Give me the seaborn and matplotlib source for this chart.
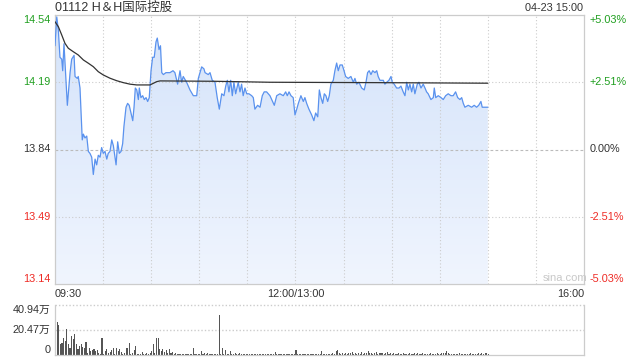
import numpy as np
import pandas as pd
import matplotlib
matplotlib.use("Agg")
import matplotlib.pyplot as plt
import matplotlib.colors as mcolors
import seaborn as sns

# ---------------- data ----------------
title = "01112 H＆H国际控股"
stamp = "04-23 15:00"
prev_close = 13.84
price_ticks = [14.54, 14.19, 13.84, 13.49, 13.14]
pct_labels = ["+5.03%", "+2.51%", "0.00%", "-2.51%", "-5.03%"]
time_ticks = [0, 150, 330]
time_labels = ["09:30", "12:00/13:00", "16:00"]
vol_ticks = [40.94, 20.47, 0]
vol_labels = ["40.94万", "20.47万", "0"]

price_min = [0.0, 1.1, 2.1, 3.1, 4.2, 4.8, 5.6, 6.7, 7.7, 9.4, 10.4, 11.9, 12.5, 13.9, 14.5,
             15.6, 16.7, 17.0, 17.7, 18.7, 19.8, 20.8, 21.8, 22.9, 23.9, 25.0, 26.0, 27.0, 28.1,
             29.1, 30.1, 31.2, 32.3, 33.2, 34.3, 35.4, 36.4, 37.4, 38.1, 39.1, 40.1, 41.2, 42.2,
             43.0, 44.3, 45.3, 46.3, 47.4, 48.5, 49.3, 50.1, 51.0, 52.0, 52.6, 53.6, 54.7, 55.7,
             56.8, 57.8, 58.8, 59.9, 60.9, 61.9, 63.0, 63.8, 64.9, 65.8, 66.6, 67.6, 69.2, 71.7,
             73.6, 74.8, 76.5, 78.0, 79.0, 80.0, 82.1, 84.2, 86.3, 88.4, 89.4, 91.5, 92.9, 93.6,
             95.6, 96.7, 98.1, 99.8, 101.2, 102.5, 104.0, 105.4, 106.5, 107.5, 108.5, 109.6,
             110.6, 111.6, 112.7, 114.3, 115.4, 116.4, 117.4, 118.5, 119.6, 121.0, 122.7, 123.7,
             124.7, 126.4, 127.9, 129.3, 130.5, 132.0, 134.1, 136.8, 138.3, 140.3, 142.4, 143.9,
             144.9, 146.0, 147.2, 148.6, 149.7, 150.8, 151.8, 153.4, 154.9, 155.9, 157.0, 158.4,
             160.1, 161.5, 162.6, 163.9, 164.9, 165.9, 167.0, 168.0, 169.0, 170.1, 171.1, 172.1,
             173.6, 174.6, 175.7, 176.7, 177.8, 179.2, 180.3, 181.3, 182.9, 184.6, 186.1, 187.1,
             188.2, 189.6, 191.3, 192.9, 194.0, 195.0, 196.0, 197.1, 198.2, 199.6, 200.7, 201.6,
             202.7, 204.8, 205.8, 206.9, 208.3, 209.6, 210.4, 211.6, 213.1, 214.6, 215.8, 217.2,
             218.3, 219.4, 220.4, 221.4, 222.5, 223.5, 224.5, 226.0, 227.0, 228.3, 229.7, 230.8,
             231.8, 232.8, 234.5, 236.0, 236.6, 237.5, 239.1, 240.8, 242.2, 243.7, 245.3, 247.0,
             248.4, 249.9, 251.2, 252.6, 253.7, 254.7, 255.7, 257.8, 259.9, 261.5, 263.0, 264.3,
             265.7, 266.5, 268.2, 270.0]
price_val = [14.38, 14.53, 14.46, 14.32, 14.31, 14.25, 14.39, 14.22, 14.07, 14.24, 14.31, 14.33,
             14.22, 14.21, 14.22, 14.16, 13.94, 13.89, 13.92, 13.90, 13.91, 13.83, 13.82, 13.80,
             13.71, 13.79, 13.76, 13.81, 13.80, 13.85, 13.82, 13.83, 13.79, 13.82, 13.83, 13.89,
             13.86, 13.80, 13.76, 13.88, 13.82, 13.83, 13.87, 13.96, 14.06, 14.08, 14.07, 14.03,
             13.99, 14.06, 14.16, 14.15, 14.10, 14.16, 14.11, 14.12, 14.10, 14.11, 14.09, 14.11,
             14.25, 14.32, 14.32, 14.40, 14.42, 14.36, 14.38, 14.24, 14.23, 14.24, 14.24, 14.25,
             14.24, 14.18, 14.25, 14.19, 14.22, 14.19, 14.15, 14.12, 14.12, 14.21, 14.27, 14.26,
             14.24, 14.23, 14.24, 14.20, 14.19, 14.11, 14.05, 14.13, 14.12, 14.17, 14.20, 14.14,
             14.20, 14.12, 14.19, 14.13, 14.19, 14.14, 14.18, 14.12, 14.16, 14.13, 14.13, 14.12,
             14.11, 14.05, 14.07, 14.06, 14.12, 14.14, 14.14, 14.12, 14.07, 14.12, 14.13, 14.12,
             14.14, 14.12, 14.14, 14.12, 14.11, 14.02, 14.05, 14.08, 14.12, 14.09, 14.11, 14.08,
             14.05, 14.02, 13.99, 14.03, 14.01, 14.15, 14.11, 14.08, 14.13, 14.12, 14.09, 14.12,
             14.18, 14.20, 14.25, 14.29, 14.25, 14.28, 14.28, 14.25, 14.22, 14.21, 14.22, 14.19,
             14.21, 14.18, 14.19, 14.16, 14.15, 14.19, 14.24, 14.25, 14.23, 14.25, 14.24, 14.25,
             14.22, 14.20, 14.20, 14.18, 14.19, 14.20, 14.22, 14.19, 14.18, 14.16, 14.16, 14.17,
             14.14, 14.12, 14.19, 14.15, 14.18, 14.14, 14.18, 14.13, 14.18, 14.19, 14.16, 14.18,
             14.16, 14.14, 14.13, 14.10, 14.11, 14.16, 14.11, 14.12, 14.11, 14.10, 14.12, 14.13,
             14.12, 14.12, 14.14, 14.11, 14.10, 14.11, 14.08, 14.06, 14.07, 14.06, 14.07, 14.06,
             14.07, 14.09, 14.06, 14.06, 14.06]

avg_min = [0, 2.1, 4.2, 6.2, 8.3, 11.4, 14.5, 17.7, 20.8, 23.9, 27.0, 30.1, 34.3, 38.5,
           42.6, 46.8, 51.0, 59.3, 63.4, 65.5, 100, 134, 200, 270]
avg_val = [14.505, 14.479, 14.436, 14.393, 14.367, 14.349, 14.332, 14.306, 14.289, 14.271,
           14.245, 14.228, 14.211, 14.198, 14.188, 14.180, 14.176, 14.176, 14.193, 14.197,
           14.195, 14.190, 14.188, 14.185]

vol = [40.9, 26.9, 24.2, 8.6, 10.0, 14.0, 11.3, 20.7, 9.2, 5.4,
       15.4, 12.7, 16.7, 8.6, 4.6, 7.3, 9.2, 6.5, 5.9, 10.8,
       1.9, 5.9, 3.2, 3.8, 4.6, 3.2, 4.0, 1.9, 1.2, 13.5,
       1.1, 3.2, 4.6, 1.5, 2.7, 3.8, 5.9, 1.1, 5.9, 3.2,
       4.6, 2.7, 1.2, 1.9, 5.9, 5.4, 10.0, 1.1, 1.9, 3.8,
       7.3, 1.1, 0.8, 1.1, 2.7, 0.8, 1.1, 1.3, 0.9, 1.9,
       3.2, 8.6, 1.9, 14.0, 13.5, 4.6, 3.2, 4.6, 2.7, 3.8,
       1.9, 4.6, 1.9, 2.7, 1.2, 1.9, 1.0, 0.8, 1.1, 0.9,
       1.0, 0.8, 1.1, 0.9, 1.0, 0.8, 5.9, 1.1, 0.9, 1.1,
       0.8, 3.2, 1.1, 1.9, 1.1, 1.9, 0.9, 1.1, 0.9, 1.1,
       0.8, 1.1, 32.3, 1.2, 5.9, 1.1, 4.0, 1.1, 0.9, 3.2,
       1.1, 0.9, 1.9, 1.1, 0.9, 1.4, 0.8, 1.1, 0.7, 1.2,
       0.9, 1.1, 0.8, 1.0, 1.2, 0.7, 0.9, 1.1, 0.8, 0.6,
       0.8, 0.7, 0.9, 0.6, 0.8, 0.7, 0.9, 2.7, 1.1, 0.8,
       0.7, 0.9, 0.6, 0.8, 0.7, 0.9, 0.6, 0.8, 0.9, 1.1,
       4.0, 1.1, 0.8, 1.2, 0.9, 0.7, 1.1, 0.8, 0.6, 0.9,
       0.7, 1.1, 0.8, 0.9, 1.2, 0.8, 3.2, 1.1, 0.7, 0.9,
       1.1, 0.8, 1.2, 1.9, 1.1, 3.2, 3.8, 1.4, 1.1, 2.0,
       1.2, 1.6, 1.0, 1.9, 1.3, 2.2, 1.1, 1.5, 0.9, 1.8,
       1.2, 2.4, 1.0, 1.6, 1.3, 3.2, 1.5, 1.9, 1.1, 1.7,
       2.2, 1.0, 1.8, 1.4, 2.0, 1.1, 1.3, 2.4, 1.2, 1.6,
       1.0, 1.5, 1.2, 0.9, 1.4, 1.1, 1.0, 1.3, 0.8, 1.2,
       1.0, 1.4, 0.9, 1.2, 1.6, 1.0, 1.3, 0.9, 1.1, 1.5,
       1.0, 1.2, 0.8, 1.1, 1.3, 0.9, 1.2, 1.0, 1.4, 1.1,
       0.9, 1.3, 1.6, 2.0, 3.2, 1.4, 1.1, 0.9, 1.2, 1.0,
       0.8, 1.1, 1.3, 0.9, 1.0, 1.2, 0.8, 1.1, 0.9, 1.3,
       1.0, 1.2, 0.8, 1.1, 1.4, 0.9, 1.6, 1.2, 1.9, 1.5,
       1.0]
vol_min = list(range(len(vol)))

# ---------------- style ----------------
sns.set_style("white")
plt.rcParams['font.family'] = ['Liberation Sans', 'Noto Sans CJK SC', 'DejaVu Sans']

GREEN = '#1f9f1f'
RED = '#ee2a24'
DARK = '#333333'
GRID = '#cccccc'

W, H = 640, 360
fig = plt.figure(figsize=(6.4, 3.6), dpi=100)
ax = fig.add_axes([55 / W, 1 - 284 / H, 529 / W, 269 / H])
axv = fig.add_axes([55 / W, 1 - 355 / H, 529 / W, 50.5 / H])

df = pd.DataFrame({'minute': price_min, 'price': price_val})
dfa = pd.DataFrame({'minute': avg_min, 'avg': avg_val})
dfv = pd.DataFrame({'minute': vol_min, 'vol': vol})

ymin, ymax = price_ticks[-1], price_ticks[0]

# gradient area under price line
poly = ax.fill_between(df['minute'], df['price'], ymin, color='none', lw=0)
top_c = np.array(mcolors.to_rgb('#d4e3fa'))
bot_c = np.array(mcolors.to_rgb('#f0f5fe'))
t = np.linspace(0, 1, 256)[:, None, None]
img = top_c[None, None, :] * (1 - t) + bot_c[None, None, :] * t
im = ax.imshow(img, extent=[0, df['minute'].max(), ymin, df['price'].max()],
               aspect='auto', origin='upper', zorder=1)
im.set_clip_path(poly.get_paths()[0], transform=ax.transData)

sns.lineplot(data=df, x='minute', y='price', ax=ax, color='#5a92ee', lw=0.9,
             zorder=4, estimator=None, sort=False)
sns.lineplot(data=dfa, x='minute', y='avg', ax=ax, color=DARK, lw=0.9,
             zorder=5, estimator=None, sort=False)

ax.set_xlim(0, 330)
ax.set_ylim(ymin, ymax)
ax.set_xlabel('')
ax.set_ylabel('')
ax.set_xticks([])
ax.set_yticks([])

# grid
for m in range(30, 330, 30):
    ax.axvline(m, color=GRID, lw=0.8, ls=(0, (1, 2)), zorder=2)
for p in price_ticks[1:-1]:
    if abs(p - prev_close) < 1e-9:
        ax.axhline(p, color='#bbbbbb', lw=0.8, ls=(0, (2.5, 2)), zorder=2)
    else:
        ax.axhline(p, color=GRID, lw=0.8, ls=(0, (1, 2)), zorder=2)
for s in ax.spines.values():
    s.set_color(GRID)
    s.set_linewidth(0.9)

# price & percent labels
ytr = ax.get_yaxis_transform()
for i, (p, lab) in enumerate(zip(price_ticks, pct_labels)):
    col = GREEN if p > prev_close + 1e-9 else (RED if p < prev_close - 1e-9 else DARK)
    va = 'top' if i == 0 else ('bottom' if i == len(price_ticks) - 1 else 'center')
    ax.text(-0.008, p, f"{p:.2f}", transform=ytr, ha='right', va=va, color=col, fontsize=7.8)
    ax.text(1.011, p, lab, transform=ytr, ha='left', va=va, color=col, fontsize=7.8)

# time labels
xtr = ax.get_xaxis_transform()
has = ['left', 'center', 'right']
for m, lab, ha in zip(time_ticks, time_labels, has):
    ax.text(m, -0.037, lab, transform=xtr, ha=ha, va='center', color=DARK, fontsize=7.8)

# title & stamp
ax.text(0.0, 1.027, title, transform=ax.transAxes, ha='left', va='center', color=DARK, fontsize=9)
ax.text(0.998, 1.027, stamp, transform=ax.transAxes, ha='right', va='center', color=DARK, fontsize=7.8)
ax.text(0.964, 0.024, 'sina.com', transform=ax.transAxes, ha='center', va='center',
        color='#c8c8c8', fontsize=8)

# volume panel
axv.bar(dfv['minute'], dfv['vol'], width=0.68, color='#555555', lw=0, align='edge')
axv.set_xlim(0, 330)
axv.set_ylim(0, vol_ticks[0])
axv.set_xticks([])
axv.set_yticks([])
for v in vol_ticks[:-1]:
    axv.axhline(v, color=GRID, lw=1.0, ls=(0, (1, 1.5)), zorder=0, clip_on=False)
axv.spines['top'].set_visible(False)
for k in ['left', 'right', 'bottom']:
    axv.spines[k].set_color(GRID)
    axv.spines[k].set_linewidth(0.9)
vtr = axv.get_yaxis_transform()
for i, (v, lab) in enumerate(zip(vol_ticks, vol_labels)):
    va = 'top' if i == 0 else ('bottom' if i == len(vol_ticks) - 1 else 'center')
    axv.text(-0.008, v, lab, transform=vtr, ha='right', va=va, color=DARK, fontsize=7.8)

fig.savefig('out.png', dpi=100)
